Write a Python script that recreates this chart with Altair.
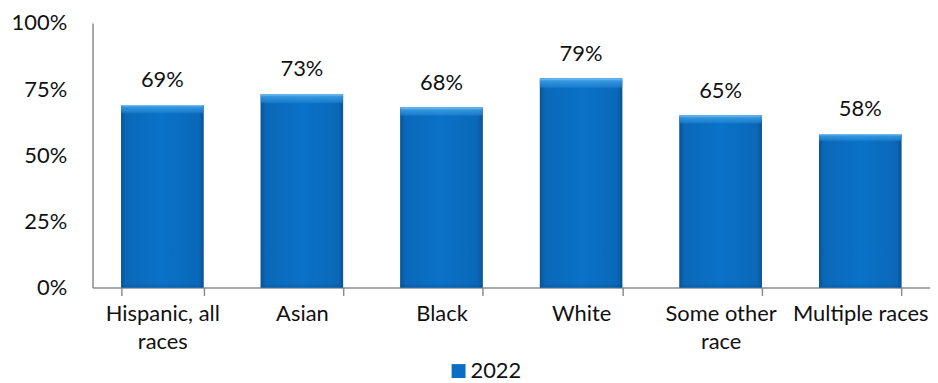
import altair as alt
import pandas as pd

categories = ["Hispanic, all\nraces", "Asian", "Black", "White", "Some other\nrace", "Multiple races"]
values = [0.69, 0.73, 0.68, 0.79, 0.65, 0.58]
series = ["2022"] * 6
y_ticks = [0, 0.25, 0.5, 0.75, 1.0]

df = pd.DataFrame({"category": categories, "value": values, "series": series})

FONT = "Lato"
FS = 22

x_enc = alt.X(
    "category:N",
    sort=categories,
    scale=alt.Scale(paddingInner=0.41, paddingOuter=0.205),
    axis=alt.Axis(
        title=None,
        orient="bottom",
        labelAngle=0,
        labelExpr="split(datum.label, '\\n')",
        tickBand="extent",
        tickSize=8,
        tickColor="#8c8c8c",
        tickWidth=1.5,
        domainColor="#8c8c8c",
        domainWidth=1.5,
        labelPadding=8,
        labelBaseline="top",
        labelLineHeight=28,
        labelFont=FONT,
        labelFontSize=FS,
        labelColor="#111111",
        labelLimit=0,
        grid=False,
    ),
)
y_enc = alt.Y(
    "value:Q",
    scale=alt.Scale(domain=[0, 1], nice=False),
    axis=alt.Axis(
        title=None,
        orient="left",
        values=y_ticks,
        format=".0%",
        grid=False,
        ticks=False,
        labelPadding=26,
        domainColor="#8c8c8c",
        domainWidth=1.5,
        labelFont=FONT,
        labelFontSize=FS,
        labelColor="#111111",
    ),
)

base = alt.Chart(df)

legend_bars = base.mark_bar().encode(
    x=x_enc,
    y=y_enc,
    color=alt.Color(
        "series:N",
        scale=alt.Scale(range=["#0A6FC4"]),
        legend=alt.Legend(
            title=None,
            orient="none",
            legendX=357,
            legendY=339,
            symbolType="square",
            symbolSize=196,
            symbolStrokeWidth=0,
            labelFont=FONT,
            labelFontSize=FS,
            labelColor="#111111",
            labelOffset=1,
            padding=0,
        ),
    ),
)

grad_bars = base.mark_bar(
    fill=alt.Gradient(
        gradient="linear",
        x1=0, x2=1, y1=0, y2=0,
        stops=[
            alt.GradientStop(color="#0A5296", offset=0),
            alt.GradientStop(color="#0B68B8", offset=0.06),
            alt.GradientStop(color="#0A72C8", offset=0.5),
            alt.GradientStop(color="#0B68B8", offset=0.94),
            alt.GradientStop(color="#0A5296", offset=1),
        ],
    )
).encode(x=x_enc, y=y_enc)

bevel_bars = base.mark_bar(
    fill=alt.Gradient(
        gradient="linear",
        x1=0, x2=0, y1=0, y2=1,
        stops=[
            alt.GradientStop(color="rgba(130,200,248,1)", offset=0),
            alt.GradientStop(color="rgba(60,158,228,0.85)", offset=0.012),
            alt.GradientStop(color="rgba(40,140,218,0.6)", offset=0.04),
            alt.GradientStop(color="rgba(10,114,200,0)", offset=0.05),
            alt.GradientStop(color="rgba(10,114,200,0)", offset=0.97),
            alt.GradientStop(color="rgba(5,60,120,0.35)", offset=1),
        ],
    )
).encode(x=x_enc, y=y_enc)

labels = base.mark_text(
    font=FONT, fontSize=FS, color="#111111", baseline="alphabetic", dy=-18
).encode(
    x=x_enc,
    y=y_enc,
    text=alt.Text("value:Q", format=".0%"),
)

chart = (
    alt.layer(legend_bars, grad_bars, bevel_bars, labels)
    .properties(
        width=842,
        height=266,
        background="white",
        autosize=alt.AutoSizeParams(type="none"),
        padding={"left": 85, "top": 14, "right": 0, "bottom": 95},
    )
    .configure_view(strokeWidth=0, stroke="transparent")
)

chart.save("out.html", embed_options={"renderer": "svg", "actions": False})
